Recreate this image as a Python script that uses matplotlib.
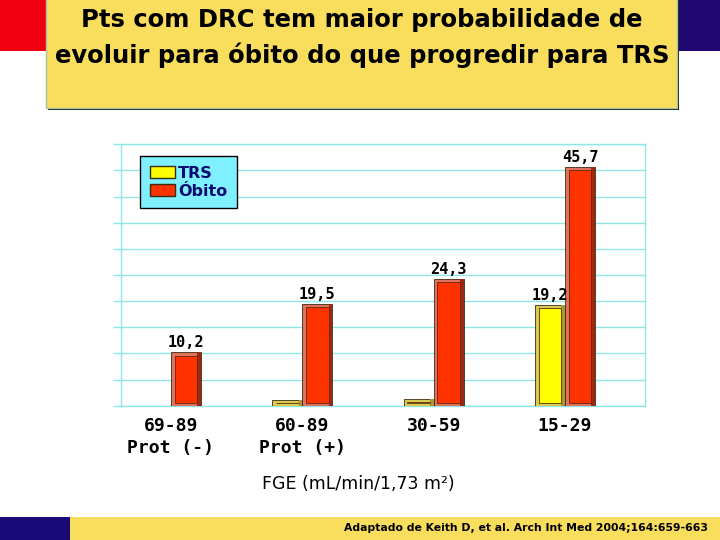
import matplotlib.pyplot as plt
from matplotlib.patches import Rectangle
import numpy as np

# data
categories = ['69-89\nProt (-)', '60-89\nProt (+)', '30-59', '15-29']
trs = [0.0, 1.1, 1.3, 19.2]
obito = [10.2, 19.5, 24.3, 45.7]

title_lines = ['Pts com DRC tem maior probabilidade de',
               'evoluir para óbito do que progredir para TRS']
xlabel = 'FGE (mL/min/1,73 m²)'
source = 'Adaptado de Keith D, et al. Arch Int Med 2004;164:659-663'

# colours
grid_c = '#8EE6E6'
red_face, red_light, red_dark = '#FF3300', '#E2705A', '#9E2810'
yel_face, yel_light, yel_dark = '#FFFF00', '#D8CC50', '#A89838'
box_c = '#F9DD5C'

fig = plt.figure(figsize=(7.2, 5.4), dpi=100)
fig.patch.set_facecolor('white')

# header band + title box
fig.patches.append(Rectangle((0, 0.9056), 0.07, 0.0944, transform=fig.transFigure,
                             facecolor='#F20012', edgecolor='none', zorder=0))
fig.patches.append(Rectangle((0.93, 0.9056), 0.07, 0.0944, transform=fig.transFigure,
                             facecolor='#1E0870', edgecolor='none', zorder=0))
fig.patches.append(Rectangle((0.0667, 0.796), 0.876, 0.21, transform=fig.transFigure,
                             facecolor='#101010', edgecolor='none', zorder=1))
fig.patches.append(Rectangle((0.0639, 0.8), 0.876, 0.21, transform=fig.transFigure,
                             facecolor=box_c, edgecolor='#A8C8A0', linewidth=1, zorder=2))
fig.text(0.503, 0.963, title_lines[0], ha='center', va='center', fontsize=17.5,
         fontweight='bold', family='DejaVu Sans', zorder=3)
fig.text(0.503, 0.898, title_lines[1], ha='center', va='center', fontsize=17.5,
         fontweight='bold', family='DejaVu Sans', zorder=3)

# footer band
fig.patches.append(Rectangle((0, 0), 0.097, 0.0426, transform=fig.transFigure,
                             facecolor='#1A0A78', edgecolor='none', zorder=0))
fig.patches.append(Rectangle((0.097, 0), 0.903, 0.0426, transform=fig.transFigure,
                             facecolor=box_c, edgecolor='none', zorder=0))
fig.text(0.983, 0.0213, source, ha='right', va='center', fontsize=7.8,
         fontweight='bold', zorder=3)

# chart
ax = fig.add_axes([0.168, 0.2487, 0.728, 0.4841])
x = np.arange(len(categories))
w = 0.2285
dx = 0.028   # bevel width in x units
dy = 0.6     # bevel height in value units


def bevel_bars(xs, vals, face, light, dark):
    xs = np.asarray(xs, dtype=float)
    vals = np.asarray(vals, dtype=float)
    keep = vals > 0
    xs, vals = xs[keep], vals[keep]
    ax.bar(xs, vals, w, align='edge', color=light, edgecolor='#3A2A10',
           linewidth=0.6, zorder=3)
    ax.bar(xs + w - dx, vals, dx, align='edge', color=dark, edgecolor='none', zorder=3)
    ax.bar(xs + dx, vals - 2 * dy, w - 2 * dx, bottom=dy, align='edge',
           color=face, edgecolor='#5A2A10', linewidth=0.6, zorder=4)


bevel_bars(x - w, trs, yel_face, yel_light, yel_dark)
bevel_bars(x, obito, red_face, red_light, red_dark)

for xi, v in zip(x, trs):
    if v >= 5:
        ax.text(xi - w / 2, v + 0.4, f'{v:.1f}'.replace('.', ','), ha='center',
                va='bottom', fontsize=11, fontweight='bold', family='DejaVu Sans Mono',
                zorder=5)
for xi, v in zip(x, obito):
    ax.text(xi + w / 2, v + 0.4, f'{v:.1f}'.replace('.', ','), ha='center',
            va='bottom', fontsize=11, fontweight='bold', family='DejaVu Sans Mono',
            zorder=5)

ax.set_xlim(-0.381, 3.61)
ax.set_ylim(0, 50)
ax.set_yticks(np.arange(0, 51, 5))
ax.set_yticklabels([])
ax.tick_params(axis='y', direction='out', length=6, color=grid_c, width=1)
ax.grid(axis='y', color=grid_c, linewidth=1, zorder=0)
ax.set_axisbelow(True)
for s in ax.spines.values():
    s.set_color(grid_c)
    s.set_linewidth(1)

ax.set_xticks(x)
ax.set_xticklabels(categories, fontsize=13, fontweight='bold',
                   family='DejaVu Sans Mono', linespacing=1.3)
ax.tick_params(axis='x', length=0, pad=8)

fig.text(0.497, 0.104, xlabel, ha='center', va='center', fontsize=12.5)

# legend
leg_handles = [Rectangle((0, 0), 1, 1, facecolor=yel_face, edgecolor='#3A2A10', linewidth=1),
               Rectangle((0, 0), 1, 1, facecolor=red_face, edgecolor='#3A2A10', linewidth=1)]
leg = fig.legend(leg_handles, ['TRS', 'Óbito'], loc='upper left',
                 bbox_to_anchor=(0.1944, 0.7111), bbox_transform=fig.transFigure,
                 borderaxespad=0, fancybox=False, framealpha=1, facecolor='#7FF0FF',
                 edgecolor='black', handlelength=1.6, handleheight=0.8,
                 handletextpad=0.2, labelspacing=0.2, borderpad=0.6,
                 prop={'weight': 'bold', 'size': 11.5})
leg.get_frame().set_linewidth(1)
for t in leg.get_texts():
    t.set_color('#0A0A70')

fig.savefig('out.png', dpi=100)
